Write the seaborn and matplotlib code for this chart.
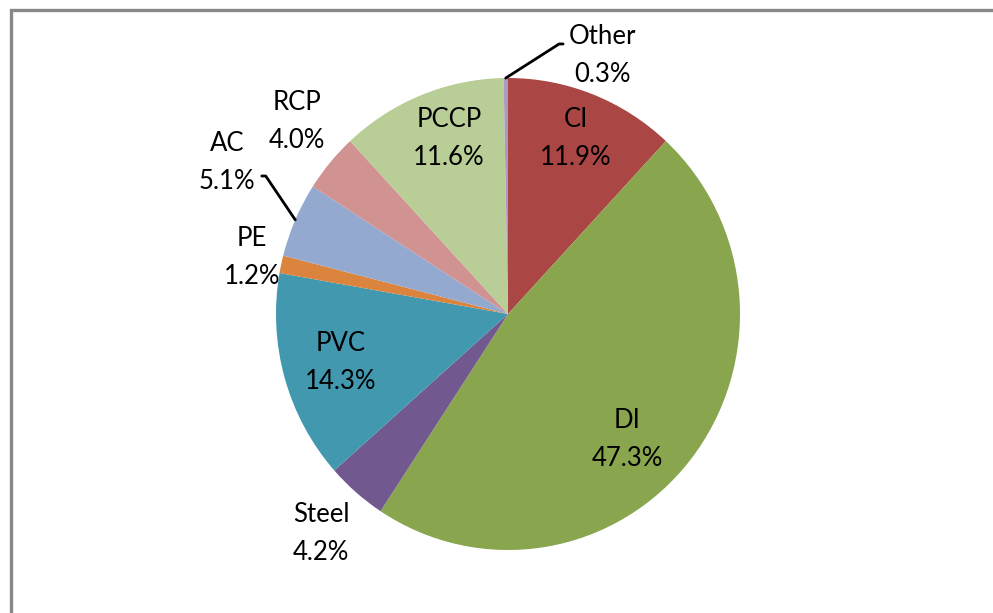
import numpy as np
import matplotlib
matplotlib.use("Agg")
import matplotlib.pyplot as plt
from matplotlib.patches import Rectangle
import seaborn as sns

# pipe material shares, clockwise from 12 o'clock
materials = ["CI", "DI", "Steel", "PVC", "PE", "AC", "RCP", "PCCP", "Other"]
shares = [11.9, 47.3, 4.2, 14.3, 1.2, 5.1, 4.0, 11.6, 0.3]
colors = ["#AA4643", "#89A54E", "#71588F", "#4198AF", "#DB843D",
          "#93A9CF", "#D19392", "#B9CD96", "#A99BBD"]

# label placement: radius factor and angle tweak (deg) per slice
label_r = [0.80, 0.74, 1.23, 0.75, 1.13, 1.37, 1.22, 0.785, 1.17]
label_dang = [0, -8, 0, 0, 0, -4.5, -2, -3, -21]
leader = {"AC": dict(relpos=(1.0, 0.28), angleA=0),
          "Other": dict(relpos=(0.0, 0.68), angleA=180)}

sns.set_theme(style="white")
plt.rcParams["font.family"] = ["Lato", "DejaVu Sans"]

W, H = 993, 613
fig = plt.figure(figsize=(W / 100, H / 100), dpi=100)
fig.patch.set_facecolor("white")

# pie centre ~ (508, 314) px, radii ~232 x 236 px
cx, cy, RX, RY = 508, 314, 232, 236
ax = fig.add_axes([(cx - RX) / W, (H - cy - RY) / H, 2 * RX / W, 2 * RY / H])

wedges, _ = ax.pie(shares, colors=colors, startangle=90, counterclock=False,
                   radius=1.0, normalize=True,
                   wedgeprops=dict(linewidth=0, antialiased=True))
ax.set_aspect("auto")
ax.set_xlim(-1, 1)
ax.set_ylim(-1, 1)
ax.axis("off")

for w, name, val, r, da in zip(wedges, materials, shares, label_r, label_dang):
    mid = np.deg2rad((w.theta1 + w.theta2) / 2)
    ang = mid + np.deg2rad(da)
    tx, ty = r * np.cos(ang), r * np.sin(ang)
    txt = f"{name}\n{val:.1f}%"
    if name in leader:
        opt = leader[name]
        ex, ey = np.cos(mid), np.sin(mid)
        ax.annotate(txt, xy=(ex, ey), xytext=(tx, ty), ha="center", va="center",
                    fontsize=18.5, color="black", linespacing=1.65,
                    arrowprops=dict(arrowstyle="-", color="black", lw=2.0,
                                    shrinkA=2, shrinkB=0,
                                    relpos=opt["relpos"],
                                    connectionstyle=f"arc,angleA={opt['angleA']},angleB=0,armA=10,armB=0,rad=0"))
    else:
        ax.text(tx, ty, txt, ha="center", va="center", fontsize=18.5,
                color="black", linespacing=1.65)

# chart frame (only top and left edges visible in the crop)
fig.add_artist(Rectangle((10.5 / W, -0.1), 1.2, (H - 10) / H + 0.1,
                         transform=fig.transFigure, fill=False,
                         edgecolor="#878787", linewidth=2.4, clip_on=False))

fig.savefig("out.png", dpi=100, facecolor="white")
